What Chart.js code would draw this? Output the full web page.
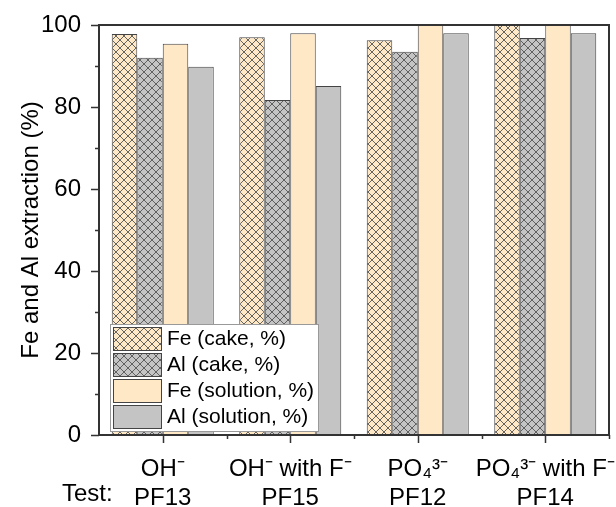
<!DOCTYPE html>
<html>
<head>
<meta charset="utf-8">
<script src="https://cdn.jsdelivr.net/npm/chart.js@4"></script>
<style>
  body { margin: 0; background: #fff; }
  #wrap { width: 616px; height: 507px; }
</style>
</head>
<body>
<div id="wrap"><canvas id="chart" width="616" height="507"></canvas></div>
<script>
// === data ===
const groups = ['OH\u207B', 'OH\u207B with F\u207B', 'PO\u2084\u00B3\u207B', 'PO\u2084\u00B3\u207B with F\u207B'];
const tests = ['PF13', 'PF15', 'PF12', 'PF14'];
const feCake = [97.8, 97.0, 96.3, 100];
const alCake = [92.0, 81.7, 93.5, 96.8];
const feSolution = [95.4, 98.0, 100, 100];
const alSolution = [89.8, 85.1, 98.0, 98.0];
const seriesNames = ['Fe (cake, %)', 'Al (cake, %)', 'Fe (solution, %)', 'Al (solution, %)'];
const yTicks = [0, 20, 40, 60, 80, 100];

const FONT = 'Liberation Sans, Arial, sans-serif';
const PEACH = '#FFE8C6';
const GREY = '#C4C4C4';

// cross hatch pattern
function hatch(bg) {
  const c = document.createElement('canvas');
  c.width = 8; c.height = 8;
  const g = c.getContext('2d');
  g.fillStyle = bg;
  g.fillRect(0, 0, 8, 8);
  g.strokeStyle = '#555';
  g.lineWidth = 0.9;
  g.beginPath();
  g.moveTo(0, 0); g.lineTo(8, 8);
  g.moveTo(8, 0); g.lineTo(0, 8);
  g.stroke();
  return g.createPattern(c, 'repeat');
}

const fills = [hatch(PEACH), hatch(GREY), PEACH, GREY];
const values = [feCake, alCake, feSolution, alSolution];

// frame, ticks, "Test:" and legend box
const extras = {
  id: 'extras',
  afterDatasetsDraw(chart) {
    const ctx = chart.ctx;
    const a = chart.chartArea;
    const x = chart.scales.x, y = chart.scales.y;
    ctx.save();
    ctx.strokeStyle = '#333';
    ctx.lineWidth = 2;
    ctx.strokeRect(a.left, a.top, a.right - a.left, a.bottom - a.top);

    ctx.lineWidth = 1.5;
    ctx.beginPath();
    // y ticks (major every 20, minor every 10)
    for (let v = 0; v <= 100; v += 10) {
      const py = Math.round(y.getPixelForValue(v)) + 0.5;
      const len = v % 20 === 0 ? 8 : 4;
      ctx.moveTo(a.left, py); ctx.lineTo(a.left - len, py);
    }
    // x ticks: major at centers, minor at boundaries
    for (let i = 0; i < groups.length; i++) {
      const px = Math.round(x.getPixelForValue(i)) + 0.5;
      ctx.moveTo(px, a.bottom); ctx.lineTo(px, a.bottom + 8);
      const bx = Math.round(x.getPixelForValue(i + 0.5)) + 0.5;
      ctx.moveTo(bx, a.bottom); ctx.lineTo(bx, a.bottom + 4);
    }
    ctx.stroke();

    // "Test:" label
    ctx.fillStyle = '#000';
    ctx.font = '24px ' + FONT;
    ctx.textAlign = 'left';
    ctx.textBaseline = 'middle';
    ctx.fillText('Test:', 62, 494);

    // legend inside plot
    const lx = 110, ly = 324, lw = 208, lh = 107;
    ctx.fillStyle = '#fff';
    ctx.fillRect(lx, ly, lw, lh);
    ctx.strokeStyle = '#999';
    ctx.lineWidth = 1;
    ctx.strokeRect(lx + 0.5, ly + 0.5, lw, lh);
    chart.data.datasets.forEach((ds, i) => {
      const sy = ly + 3 + i * 26;
      ctx.fillStyle = ds.backgroundColor;
      ctx.fillRect(lx + 3, sy, 48, 23);
      ctx.strokeStyle = '#444';
      ctx.strokeRect(lx + 3.5, sy + 0.5, 48, 23);
      ctx.fillStyle = '#000';
      ctx.font = '21px ' + FONT;
      ctx.fillText(ds.label, lx + 57, sy + 12);
    });
    ctx.restore();
  }
};

new Chart(document.getElementById('chart'), {
  type: 'bar',
  data: {
    labels: groups.map((g, i) => [g, tests[i]]),
    datasets: values.map((vals, i) => ({
      label: seriesNames[i],
      data: vals,
      backgroundColor: fills[i],
      borderColor: '#444',
      borderWidth: 1,
      borderSkipped: 'bottom',
      categoryPercentage: 0.8,
      barPercentage: 1.0
    }))
  },
  options: {
    responsive: false,
    animation: false,
    layout: { padding: { top: 25, right: 7, left: 0, bottom: 0 } },
    plugins: { legend: { display: false }, tooltip: { enabled: false } },
    scales: {
      x: {
        grid: { display: false },
        border: { display: false },
        ticks: {
          color: '#000',
          font: { family: FONT, size: 24, lineHeight: 1.2 },
          padding: 12,
          autoSkip: false,
          maxRotation: 0,
          minRotation: 0
        },
        afterFit: s => { s.height = 72; s.paddingLeft = 0; s.paddingRight = 0; }
      },
      y: {
        min: 0,
        max: 100,
        grid: { display: false },
        border: { display: false },
        afterBuildTicks: s => { s.ticks = yTicks.map(v => ({ value: v })); },
        ticks: {
          color: '#000',
          font: { family: FONT, size: 24 },
          padding: 10
        },
        title: {
          display: true,
          text: 'Fe and Al extraction (%)',
          color: '#000',
          font: { family: FONT, size: 24 },
          padding: { top: 17, bottom: 0 }
        },
        afterFit: s => { s.width = 99; }
      }
    }
  },
  plugins: [extras]
});
</script>
</body>
</html>
